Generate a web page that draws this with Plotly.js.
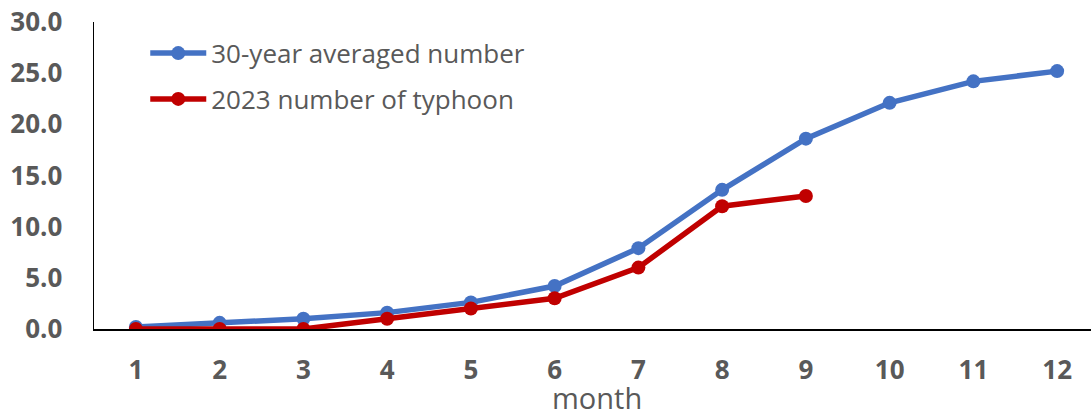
<!DOCTYPE html>
<html>
<head>
<meta charset="utf-8">
<script src="https://cdn.plot.ly/plotly-3.0.1.min.js"></script>
<style>
html,body{margin:0;padding:0;overflow:hidden;background:#fff;width:1091px;height:412px;}
#chart{width:1099px;height:412px;}
</style>
</head>
<body>
<div id="chart"></div>
<script>
const months = [1,2,3,4,5,6,7,8,9,10,11,12];
const monthLabels = ['1','2','3','4','5','6','7','8','9','10','11','12'];
const avg30 = [0.2,0.6,1.0,1.6,2.6,4.2,7.9,13.6,18.6,22.1,24.2,25.2];
const months2023 = [1,2,3,4,5,6,7,8,9];
const num2023 = [0,0,0,1,2,3,6,12,13];
const yTicks = [0,5,10,15,20,25,30];
const yTickLabels = ['0.0','5.0','10.0','15.0','20.0','25.0','30.0'];
const xTitle = 'month';

const gray = '#595959';
const traces = [
  {x: months, y: avg30, name: '30-year averaged number', type: 'scatter', mode: 'lines+markers',
   legendgroup: 'a',
   line: {color: '#4472C4', width: 5.5}, marker: {color: '#4472C4', size: 14}},
  {x: months2023, y: num2023, name: '2023 number of typhoon', type: 'scatter', mode: 'lines+markers',
   legendgroup: 'b',
   line: {color: '#C00000', width: 5.5}, marker: {color: '#C00000', size: 14}}
];
const layout = {
  width: 1099, height: 412,
  margin: {l: 94, r: 0, t: 22, b: 83},
  paper_bgcolor: '#fff', plot_bgcolor: '#fff',
  font: {family: 'Open Sans, Noto Sans, sans-serif', color: gray},
  showlegend: true,
  legend: {x: 0.051, y: 0.975, xanchor: 'left', yanchor: 'top', bgcolor: 'rgba(0,0,0,0)',
    font: {size: 26, color: gray}, itemwidth: 56, tracegroupgap: 9, traceorder: 'grouped'},
  xaxis: {range: [0.5, 12.5], tickmode: 'array', tickvals: months, ticktext: monthLabels,
    showgrid: false, zeroline: false, showline: true, linecolor: '#000', linewidth: 1.5,
    ticks: '', ticklabelstandoff: 17,
    tickfont: {size: 26, color: gray, weight: 'bold'}},
  yaxis: {range: [0, 30], tickmode: 'array', tickvals: yTicks, ticktext: yTickLabels,
    showgrid: false, zeroline: false, showline: true, linecolor: '#000', linewidth: 1.5,
    ticks: '', ticklabelstandoff: 25,
    tickfont: {size: 26, color: gray, weight: 'bold'}},
  annotations: [{text: xTitle, xref: 'paper', yref: 'paper', x: 0.5, y: -0.222,
    xanchor: 'center', yanchor: 'middle', showarrow: false, borderpad: 0,
    font: {size: 29, color: gray}}]
};
Plotly.newPlot('chart', traces, layout, {displayModeBar: false, staticPlot: true});
</script>
</body>
</html>
